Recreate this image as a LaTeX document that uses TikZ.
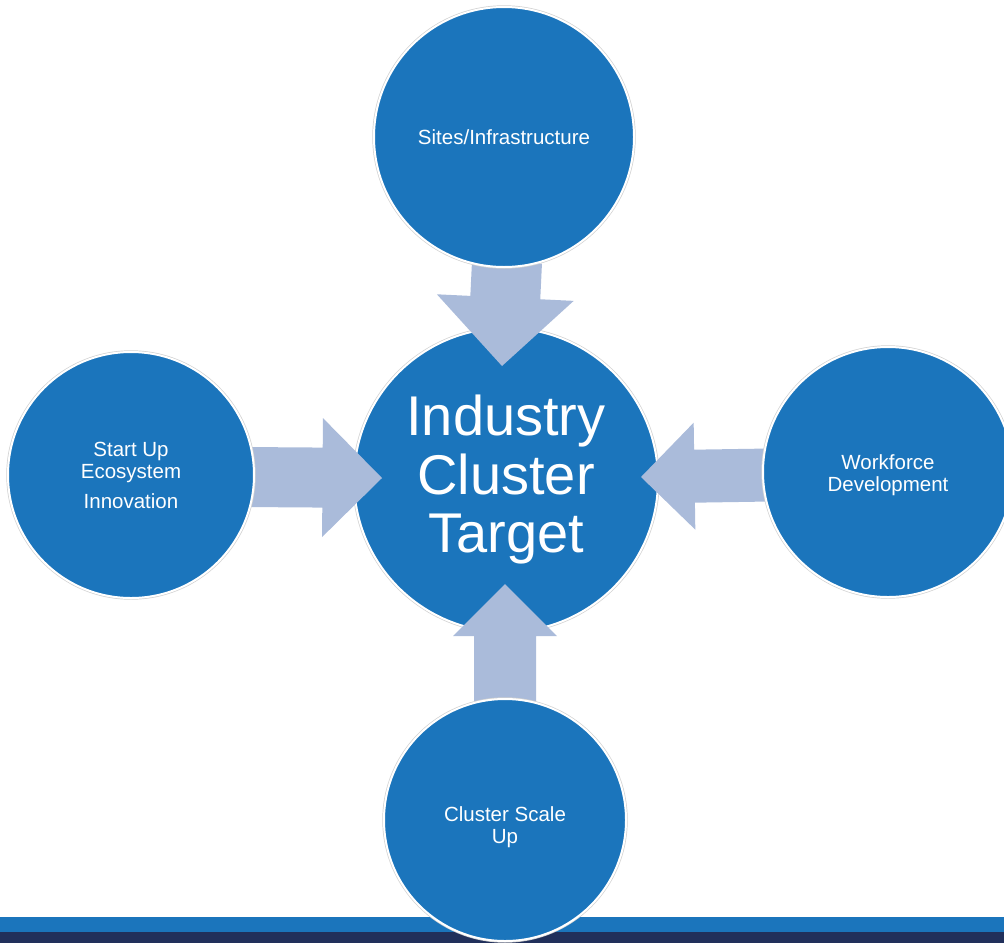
\documentclass[tikz,border=0pt]{standalone}
\usepackage{fontspec}
\setmainfont{Liberation Sans}
\usetikzlibrary{calc}
\definecolor{circleblue}{RGB}{27,117,188}
\definecolor{arrowblue}{RGB}{170,187,218}
\definecolor{barnavy}{RGB}{33,48,91}
\tikzset{
  bubble/.style={circle, fill=circleblue, draw=white, line width=2pt, text=white, align=center, inner sep=0pt, preaction={draw=black!18, line width=3.4pt}},
  blockarrow/.style={fill=arrowblue, draw=none},
  smalltext/.style={font=\fontsize{20.5}{22}\selectfont}
}
% block arrow: tail, tip, shaft half width, head half width
\newcommand{\blockarrow}[4]{%
  \coordinate (hb) at ($(#2)!#4!(#1)$);
  \fill[blockarrow] ($(#1)!#3!90:(#2)$) -- ($(hb)!#3!90:(#2)$) -- ($(hb)!#4!90:(#2)$) -- (#2)
    -- ($(hb)!#4!-90:(#2)$) -- ($(hb)!#3!-90:(#2)$) -- ($(#1)!#3!-90:(#2)$) -- cycle;
}
\begin{document}
\begin{tikzpicture}[x=1pt,y=1pt,yscale=-1]
\useasboundingbox (0,0) rectangle (1004,943);

% Footer Bars
\fill[circleblue] (0,917) rectangle (1004,932);
\fill[barnavy] (0,932) rectangle (1004,943);

% Hub Circle
\node[bubble, minimum size=304pt, font=\fontsize{56}{58.5}\selectfont] (hub) at (506,480) {Industry\\Cluster\\Target};

% Arrow Ends
\coordinate (topTail) at (507,262);
\coordinate (topTip) at (502,366);
\coordinate (leftTail) at (245,477);
\coordinate (leftTip) at (382,478);
\coordinate (rightTail) at (770,475);
\coordinate (rightTip) at (641,477);
\coordinate (bottomTail) at (505,705);
\coordinate (bottomTip) at (505,584);

% Block Arrows
\blockarrow{topTail}{topTip}{35pt}{68.5pt}
\blockarrow{leftTail}{leftTip}{30pt}{59.5pt}
\blockarrow{rightTail}{rightTip}{26.5pt}{53.5pt}
\blockarrow{bottomTail}{bottomTip}{31pt}{52pt}

% Outer Circles
\node[bubble, minimum size=260pt, smalltext] (sites) at (504,137) {Sites/Infrastructure};
\node[bubble, minimum size=246pt, smalltext] (startup) at (131,475) {Start Up\\Ecosystem\\[8pt]Innovation};
\node[bubble, minimum size=250pt, smalltext] (workforce) at (888,472) {\rule{0pt}{21pt}Workforce\\Development};
\node[bubble, minimum size=242pt, smalltext] (scaleup) at (505,820) {\rule{0pt}{29pt}Cluster Scale\\Up};

\end{tikzpicture}
\end{document}
